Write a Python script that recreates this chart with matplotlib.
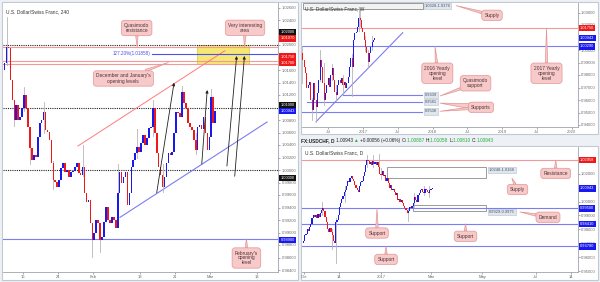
import numpy as np
import matplotlib
matplotlib.use("Agg")
import matplotlib.pyplot as plt
from matplotlib.patches import Rectangle
from matplotlib import transforms
from matplotlib.offsetbox import TextArea, HPacker, AnchoredOffsetbox

plt.rcParams['font.family'] = ['Liberation Sans', 'DejaVu Sans']

RED = '#f01818'
BLUE = '#1818f0'
WICK = '#b5b5b5'
PINK = '#f29a9a'
LBLUE = '#7c7cf4'
BOX_FC = '#f7c9c9'
BOX_EC = '#e39595'
TXT = '#4d3535'

# ---------------- 4H chart (one bar = 8 hours) ----------------
h4_open0 = 1.0150
h4_close = [1.0160, 1.0171, 1.0197, 1.0195, 1.0144, 1.0112, 1.0080, 1.0104, 1.0080, 1.0085,
            1.0099, 1.0120, 1.0099, 1.0069, 1.0035, 1.0016, 1.0024, 1.0021, 1.0053, 1.0075,
            1.0080, 1.0093, 1.0064, 1.0061, 1.0048, 1.0011, 0.9984, 0.9981, 0.9973, 0.9984,
            1.0003, 1.0011, 0.9997, 1.0000, 0.9989, 0.9997, 0.9999, 1.0005, 1.0011, 0.9995,
            0.9992, 1.0005, 0.9963, 0.9949, 0.9952, 0.9915, 0.9888, 0.9899, 0.9920, 0.9915,
            0.9888, 0.9893, 0.9917, 0.9941, 0.9920, 0.9915, 0.9925, 0.9920, 0.9907, 0.9963,
            0.9997, 0.9979, 0.9989, 0.9997, 0.9944, 0.9963, 1.0005, 1.0016, 1.0027, 1.0037,
            1.0029, 1.0043, 1.0056, 1.0040, 1.0051, 1.0067, 1.0069, 1.0099, 1.0059, 1.0027,
            1.0005, 0.9992, 0.9973, 0.9989, 1.0011, 1.0027, 1.0024, 1.0029, 1.0059, 1.0093,
            1.0091, 1.0085, 1.0125, 1.0107, 1.0099, 1.0075, 1.0069, 1.0064, 1.0048, 1.0032,
            1.0069, 1.0072, 1.0066, 1.0085, 1.0059, 1.0032, 1.0053, 1.0117, 1.0075, 1.0094]
# notable wicks: (bar, low, high)
h4_wicks = [(2, 1.0168, 1.0245), (11, 1.0095, 1.0133), (21, 1.0060, 1.0109), (41, 0.9990, 1.0040),
            (46, 0.9861, 0.9905), (50, 0.9869, 0.9900), (77, 1.0055, 1.0112), (92, 1.0090, 1.0135),
            (6, 1.0070, 1.0110), (14, 1.0010, 1.0050), (26, 0.9970, 1.0015), (59, 0.9950, 1.0010),
            (69, 1.0020, 1.0065), (82, 0.9965, 1.0010), (99, 1.0025, 1.0060), (107, 1.0060, 1.0130)]
h4_ticks = [10.3, 28.3, 46.3, 70.3, 88.3, 106.3, 130.3]
h4_ticklabels = ['16', '24', 'Feb', '13', '21', 'Mar', '13']
h4_dotted = [1.020, 1.010, 1.000]
h4_pink = [1.0197, 1.0175, 1.0170]
h4_blue = [0.9890]
h4_fib = 1.01858
h4_tags = [('1.02000', 1.02203, '#111111'), ('1.01970', 1.02107, RED),
           ('1.01750', 1.01813, RED), ('1.01700', 1.01717, RED),
           ('1.01000', 1.01035, '#111111'), ('1.00943', 1.00944, BLUE),
           ('1.00000', 0.99872, '#111111'), ('0.98900', 0.98880, BLUE)]

# ---------------- weekly chart ----------------
wk_open0 = 0.9760
wk_close = [0.9973, 0.9920, 0.9867, 0.9813, 0.9693, 0.9720, 0.9747, 0.9600, 0.9520, 0.9733,
            0.9600, 0.9547, 0.9653, 0.9760, 0.9920, 0.9867, 0.9733, 0.9600, 0.9653, 0.9720,
            0.9773, 0.9707, 0.9800, 0.9853, 0.9760, 0.9667, 0.9640, 0.9720, 0.9760, 0.9733,
            0.9773, 0.9720, 0.9747, 0.9693, 0.9733, 0.9787, 0.9867, 0.9933, 0.9867, 1.0080,
            1.0133, 1.0147, 1.0187, 1.0253, 1.0240, 1.0173, 1.0147, 1.0080, 1.0027, 0.9973,
            0.9907, 0.9973, 1.0027, 1.0067, 1.0080, 1.0094]
wk_wicks = [(0, 0.9733, 1.0030), (8, 0.9440, 0.9620), (11, 0.9427, 0.9600), (14, 0.9750, 1.0000),
            (17, 0.9560, 0.9900), (23, 0.9760, 0.9890), (26, 0.9600, 0.9720), (31, 0.9650, 0.9800),
            (38, 0.9630, 0.9970), (43, 1.0150, 1.0344), (44, 1.0190, 1.0330), (48, 0.9990, 1.0110),
            (50, 0.9862, 1.0000), (53, 1.0000, 1.0110)]
wk_start = 2016.115
wk_ticks = [2016.5, 2017, 2017.5, 2018, 2018.5, 2019, 2019.5, 2020]
wk_ticklabels = ['Jul', '2017', 'Jul', '2018', 'Jul', '2019', 'Jul', '2020']
wk_tags = [('1.01750', 1.0175, RED), ('1.00943', 1.00943, BLUE), ('1.00290', 1.0029, BLUE)]

# ---------------- daily chart (x = trading days from 2 Jan 2017) ----------------
d_open0 = 0.9700
d_close = [0.9720, 0.9760, 0.9770, 0.9800, 0.9790, 0.9820, 0.9840, 0.9880, 0.9900, 0.9890,
           0.9900, 0.9880, 0.9910, 0.9890, 0.9920, 0.9940, 0.9950, 0.9930, 0.9890, 0.9850,
           0.9800, 0.9780, 0.9810, 0.9780, 0.9760, 0.9720, 0.9700, 0.9850, 0.9870, 0.9900,
           0.9960, 0.9990, 1.0020, 1.0040, 1.0070, 1.0080, 1.0110, 1.0150, 1.0140, 1.0170,
           1.0180, 1.0160, 1.0150, 1.0120, 1.0100, 1.0080, 1.0070, 1.0110, 1.0140, 1.0150,
           1.0180, 1.0210, 1.0260, 1.0300, 1.0290, 1.0270, 1.0280, 1.0260, 1.0290, 1.0270,
           1.0280, 1.0260, 1.0280, 1.0250, 1.0200, 1.0190, 1.0220, 1.0180, 1.0190, 1.0150,
           1.0170, 1.0130, 1.0100, 1.0120, 1.0080, 1.0090, 1.0070, 1.0050, 1.0060, 1.0010,
           1.0020, 1.0000, 1.0010, 0.9990, 0.9970, 0.9950, 0.9940, 0.9920, 0.9930, 0.9960,
           0.9950, 0.9970, 0.9990, 1.0030, 1.0010, 1.0000, 1.0050, 1.0060, 1.0080, 1.0090,
           1.0070, 1.0060, 1.0090, 1.0080, 1.0070, 1.0060, 1.0080, 1.0088, 1.0094]
d_wicks = [(-38, 0.9557, 0.9880), (-41, 0.9660, 0.9800), (-12, 1.0250, 1.0335), (-7, 1.0250, 1.0330),
           (-2, 1.0230, 1.0340), (0, 1.0160, 1.0240), (23, 0.9863, 0.9950), (36, 1.0050, 1.0110),
           (40, 1.0030, 1.0110), (-50, 0.9900, 1.0000), (-30, 1.0000, 1.0110), (28, 0.9960, 1.0060)]
d_start = -65
d_ticks = [-65, -35, 0, 42, 85, 130, 160]
d_ticklabels = ['Oct', '14', '2017', 'Mar', 'May', 'Jul', '14']
d_tags = [('1.02958', 1.02958, RED), ('1.00943', 1.00943, BLUE), ('0.99500', 0.9950, BLUE),
          ('0.98410', 0.9841, BLUE), ('0.96780', 0.9678, BLUE)]

W, H = 600, 282
fig = plt.figure(figsize=(6, 2.82), dpi=100, facecolor='#edf0f4')


def px_axes(x0, y0, x1, y1):
    return fig.add_axes([x0 / W, 1 - y1 / H, (x1 - x0) / W, (y1 - y0) / H])


def panel(x0, y0, x1, y1):
    fig.add_artist(Rectangle((x0 / W, 1 - y1 / H), (x1 - x0) / W, (y1 - y0) / H,
                             transform=fig.transFigure, fc='white', ec='#c3c9d2', lw=0.8, zorder=-1))


def style(ax, xlim, ylim, yticks, xticks, xlabels, title):
    ax.set_xlim(*xlim)
    ax.set_ylim(*ylim)
    ax.yaxis.tick_right()
    ax.set_yticks(yticks)
    ax.set_yticklabels(['{:.5f}'.format(v) for v in yticks])
    ax.set_xticks(xticks)
    ax.set_xticklabels(xlabels)
    ax.tick_params(labelsize=3.0, colors='#6a6a6a', length=1.5, width=0.4, pad=1)
    for s in ['left', 'top']:
        ax.spines[s].set_visible(False)
    for s in ['right', 'bottom']:
        ax.spines[s].set_color('#9ba3ad')
        ax.spines[s].set_linewidth(0.6)
    ax.text(0.012, 0.975, title, transform=ax.transAxes, fontsize=3.5, color='#333333',
            ha='left', va='top', zorder=8)


def tag(ax, text, y, color):
    tr = transforms.blended_transform_factory(ax.transAxes, ax.transData)
    ax.text(1.009, y, text, transform=tr, ha='left', va='center', fontsize=2.9, color='white',
            clip_on=False, zorder=10, bbox=dict(boxstyle='square,pad=0.3', fc=color, ec='none'))


def candles(ax, x, open0, closes, width, wicks, xfun):
    for b, lo, hi in wicks:
        ax.plot([xfun(b), xfun(b)], [lo, hi], color=WICK, lw=0.6, zorder=2)
    c = np.array(closes)
    o = np.concatenate([[open0], c[:-1]])
    cols = [BLUE if cc >= oo else RED for oo, cc in zip(o, c)]
    ax.bar(x, c - o, bottom=o, width=width, color=cols, linewidth=0, zorder=3)


def callout(ax, text, xy, xytext):
    ax.annotate(text, xy=xy, xytext=xytext, ha='center', va='center', fontsize=3.5, color=TXT,
                linespacing=1.0, zorder=7, annotation_clip=False,
                bbox=dict(boxstyle='round,pad=0.55,rounding_size=0.6', fc=BOX_FC, ec=BOX_EC, lw=0.5),
                arrowprops=dict(arrowstyle='wedge,tail_width=0.5', fc=BOX_FC, ec=BOX_EC, lw=0.5,
                                shrinkA=0, shrinkB=0))


def hline(ax, y, color, x0=None, x1=None, **kw):
    lo, hi = ax.get_xlim()
    ax.plot([lo if x0 is None else x0, hi if x1 is None else x1], [y, y], color=color,
            zorder=kw.pop('zorder', 2), **kw)


def zone_label(ax, x, y, txt):
    ax.text(x, y, txt, fontsize=2.9, color='#445566', ha='left', va='center', zorder=6,
            bbox=dict(boxstyle='square,pad=0.25', fc='#dfe6ee', ec='#b8c2cc', lw=0.4))


# ================= left: 4 hour =================
panel(2, 2, 298, 280)
ax = px_axes(3, 3, 278, 272)
style(ax, (0.17, 141.2), (0.98368, 1.02672), np.round(np.arange(0.984, 1.0261, 0.002), 3),
      h4_ticks, h4_ticklabels, 'U.S. Dollar/Swiss Franc, 240')

ax.add_patch(Rectangle((99.6, 1.0170), 26.7, 0.0030, fc='#f4e45c', ec='#d8c640', lw=0.6,
                       alpha=0.85, zorder=2))
for y in h4_dotted:
    hline(ax, y, '#222222', lw=0.8, ls=(0, (1, 1)))
for y in h4_pink:
    hline(ax, y, PINK, lw=0.8)
for y in h4_blue:
    hline(ax, y, LBLUE, lw=0.8)
hline(ax, h4_fib, '#5050f0', x0=76.5, lw=0.8, zorder=4)
ax.text(75.6, h4_fib, '127.20%(1.01858)', color='#5050f0', fontsize=3.3, ha='right', va='center')

ax.plot([38.6, 114.0], [1.00384, 1.01909], color='#ff7a7a', lw=0.7, zorder=2)
ax.plot([60.2, 135.6], [0.99243, 1.00768], color=LBLUE, lw=0.8, zorder=2)

candles(ax, np.arange(len(h4_close)), h4_open0, h4_close, 0.85, h4_wicks, lambda b: b)

for (x0, y0), (x1, y1) in [((79.0, 0.99637), (87.9, 1.01397)), ((102.1, 1.00096), (104.9, 1.0128)),
                           ((115.0, 1.00064), (120.0, 1.01824)), ((119.0, 0.9990), (124.0, 1.01824))]:
    ax.annotate('', xy=(x1, y1), xytext=(x0, y0), zorder=6,
                arrowprops=dict(arrowstyle='-|>', color='#222222', lw=0.6, mutation_scale=4,
                                shrinkA=0, shrinkB=0))

callout(ax, 'Quasimodo\nresistance', (69, 1.0197), (68.7, 1.02272))
callout(ax, "December and January's\nopening levels", (85, 1.0172), (61.9, 1.01464))
callout(ax, 'Very interesting\narea', (124, 1.0196), (124.3, 1.02275))
callout(ax, "February's\nopening\nlevel", (125, 0.9890), (125.0, 0.98592))
for t, y, c in h4_tags:
    tag(ax, t, y, c)

# ================= top right: weekly =================
panel(301, 2, 598, 134)
aw = px_axes(302, 3, 577.5, 127)
style(aw, (2016.122, 2020.086), (0.9384, 1.0376), np.round(np.arange(0.94, 1.031, 0.01), 2),
      wk_ticks, wk_ticklabels, 'U.S. Dollar/Swiss Franc, W')
wk_x = wk_start + np.arange(len(wk_close)) * 7 / 365.25

aw.add_patch(Rectangle((2016.137, 1.0328), 2017.863 - 2016.137, 0.0048, fc='#f2f2f2',
                       ec='#8a8a8a', lw=0.6, zorder=1))
hline(aw, 1.0175, PINK, lw=0.8)
hline(aw, 1.0029, LBLUE, lw=0.8)
hline(aw, 0.9639, LBLUE, x0=2016.712, x1=2017.849, lw=0.8)
hline(aw, 0.9581, LBLUE, x0=2016.194, x1=2017.849, lw=0.8)
hline(aw, 0.9508, LBLUE, x0=2016.122, x1=2017.849, lw=0.8)
aw.plot([2016.324, 2017.571], [0.94264, 1.01384], color=LBLUE, lw=0.8, zorder=2)
candles(aw, wk_x, wk_open0, wk_close, 0.016, wk_wicks, lambda k: wk_start + k * 7 / 365.25)

zone_label(aw, 2017.885, 1.0352, '1.0328-1.0376')
for lvl in [0.9639, 0.9581, 0.9508]:
    zone_label(aw, 2017.885, lvl, '{:.4f}'.format(lvl))

callout(aw, 'Supply', (2018.34, 1.0355), (2018.856, 1.02776))
callout(aw, '2016 Yearly\nopening\nlevel', (2018.036, 1.0029), (2018.069, 0.98144))
callout(aw, '2017 Yearly\nopening\nlevel', (2019.64, 1.0175), (2019.64, 0.98144))
callout(aw, 'Quasimodo\nsupport', (2018.108, 0.9632), (2018.619, 0.97336))
aw.annotate('', xy=(2018.108, 0.9575), xytext=(2018.698, 0.95416), zorder=6,
            arrowprops=dict(arrowstyle='wedge,tail_width=0.5', fc=BOX_FC, ec=BOX_EC, lw=0.5,
                            shrinkA=0, shrinkB=0))
callout(aw, 'Supports', (2018.108, 0.9510), (2018.698, 0.95416))
for t, y, c in wk_tags:
    tag(aw, t, y, c)

# ================= bottom right: daily =================
panel(301, 146, 598, 280)
ad = px_axes(302, 147, 577.5, 271.7)
style(ad, (-66.4, 165.1), (0.94975, 1.03903), np.round(np.arange(0.95, 1.031, 0.01), 2),
      d_ticks, d_ticklabels, 'U.S. Dollar/Swiss Franc, D')
d_x = d_start + np.arange(len(d_close))

ad.add_patch(Rectangle((5.3, 1.0170), 82.7, 0.0078, fc='white', ec='#8a8a8a', lw=0.6, zorder=1))
ad.add_patch(Rectangle((26.9, 0.9929), 61.1, 0.0046, fc='white', ec='#8a8a8a', lw=0.6, zorder=1))
hline(ad, 1.02958, PINK, lw=0.8)
for y in [0.9950, 0.9841, 0.9678]:
    hline(ad, y, LBLUE, lw=0.8)
candles(ad, d_x, d_open0, d_close, 1.0, d_wicks, lambda d: d)

zone_label(ad, 90.8, 1.0226, '1.0248-1.0168')
zone_label(ad, 90.8, 0.99215, '0.9929-0.9975')

callout(ad, 'Resistance', (146.8, 1.02958), (146.8, 1.0201))
callout(ad, 'Supply', (110, 1.0167), (114.7, 1.0086))
callout(ad, 'Demand', (116.8, 0.9925), (140.3, 0.98874))
callout(ad, 'Support', (-3.4, 0.9950), (-3.4, 0.97745))
callout(ad, 'Support', (71, 0.9841), (71, 0.97511))
callout(ad, 'Support', (4.2, 0.9678), (4.2, 0.95856))
for t, y, c in d_tags:
    tag(ad, t, y, c)

# header line of the daily panel
GREEN = '#1fae3a'
parts = [('FX:USDCHF, D ', '#222222', 'bold'), ('1.00943 ', '#222222', 'normal'),
         ('\u25b2 ', GREEN, 'normal'), ('+0.00056 (+0.06%) ', '#222222', 'normal'),
         ('O:', '#222222', 'normal'), ('1.00887 ', GREEN, 'normal'),
         ('H:', '#222222', 'normal'), ('1.01058 ', GREEN, 'normal'),
         ('L:', '#222222', 'normal'), ('1.00810 ', GREEN, 'normal'),
         ('C:', '#222222', 'normal'), ('1.00943', GREEN, 'normal')]
boxes = [TextArea(s, textprops=dict(color=c, fontsize=3.4, fontweight=w)) for s, c, w in parts]
pack = HPacker(children=boxes, align='baseline', pad=0, sep=0)
anch = AnchoredOffsetbox(loc='center left', child=pack, pad=0, frameon=False,
                         bbox_to_anchor=(301 / W, 1 - 140.5 / H), bbox_transform=fig.transFigure,
                         borderpad=0)
fig.add_artist(anch)

fig.savefig('out.png', dpi=100, facecolor=fig.get_facecolor())
